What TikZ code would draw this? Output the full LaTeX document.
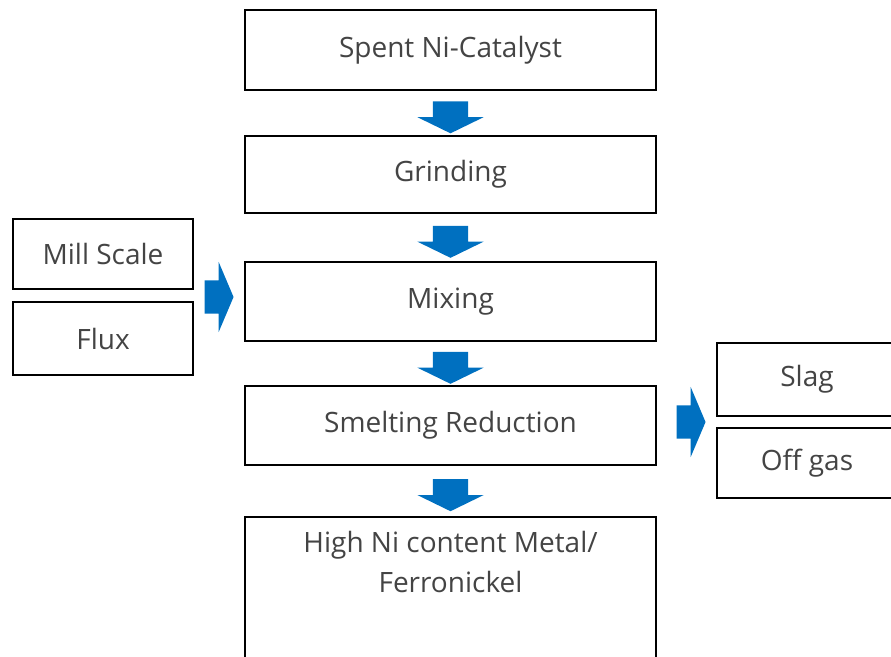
\documentclass[tikz,border=0pt]{standalone}
\usepackage{fontspec}
\setmainfont{Open Sans}
\usetikzlibrary{shapes.arrows,calc}
\definecolor{arrowblue}{RGB}{0,112,192}
\definecolor{txtgray}{RGB}{68,68,68}
\begin{document}
\begin{tikzpicture}[x=1pt,y=-1pt]
      % \tikzstyle{pnode} = [draw=gray, rectangle, inner sep = 3pt]
      \tikzstyle{pnode} = [draw=black, line width=1.6pt, rectangle, inner sep = 0pt, align=center, text=txtgray, font=\fontsize{28}{40}\selectfont]
      \tikzstyle{downarrow} = [single arrow, fill=arrowblue, draw=none, rotate=-90, inner xsep=0pt, inner ysep=17.5pt, single arrow head extend=15.5pt, single arrow tip angle=128, minimum height=32pt]
      \tikzstyle{sidearrow} = [single arrow, fill=arrowblue, draw=none, inner xsep=0pt, inner ysep=16.5pt, single arrow head extend=18.5pt, single arrow tip angle=134, minimum height=29pt]
      \useasboundingbox (0,0) rectangle (891,656);

      \node[pnode, minimum width=411pt, minimum height=80pt] (spent) at (450.5,50) {Spent Ni-Catalyst};
      \node[pnode, minimum width=411pt, minimum height=77pt] (grind) at (450.5,174.5) {Grinding};
      \node[pnode, minimum width=411pt, minimum height=79pt] (mix) at (450.5,301.5) {Mixing};
      \node[pnode, minimum width=411pt, minimum height=79pt] (smelt) at (450.5,425.5) {Smelting Reduction};
      \node[pnode, minimum width=411pt, inner ysep=8pt, text height=68pt, text depth=100pt, anchor=north] (metal) at (450.5,516) {High Ni content Metal/\\Ferronickel};

      \node[pnode, minimum width=180pt, minimum height=70pt] (mill) at (103,254) {Mill Scale};
      \node[pnode, minimum width=180pt, minimum height=73pt] (flux) at (103,338.5) {Flux};
      \node[pnode, minimum width=180pt, minimum height=73pt] (slag) at (807,379.5) {Slag};
      \node[pnode, minimum width=180pt, minimum height=70pt] (gas) at (807,463) {Off gas};

      \node[downarrow] (a1) at ($(spent.south)!0.5!(grind.north)$) {};
      \node[downarrow] (a2) at ($(grind.south)!0.5!(mix.north)$) {};
      \node[downarrow] (a3) at ($(mix.south)!0.5!(smelt.north)$) {};
      \node[downarrow] (a4) at ($(smelt.south)!0.5!(metal.north)$) {};
      \node[sidearrow] (ain) at (215.5,297) {};
      \node[sidearrow] (aout) at (687.5,422) {};
\end{tikzpicture}
\end{document}
